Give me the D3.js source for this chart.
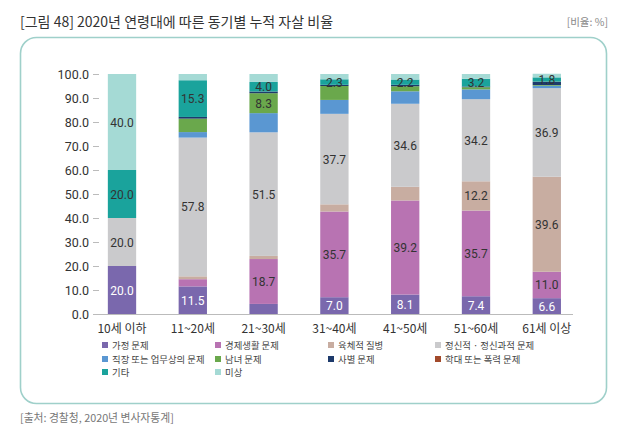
<!DOCTYPE html>
<html><head><meta charset="utf-8">
<script src="https://cdn.jsdelivr.net/npm/d3@7"></script>
<style>
html,body{margin:0;padding:0;background:#fff;}
svg{display:block;}
</style></head>
<body>
<script>
// ---- data ----
const categories = ["10세 이하","11~20세","21~30세","31~40세","41~50세","51~60세","61세 이상"];
const seriesNames = ["가정 문제","경제생활 문제","육체적 질병","정신적 · 정신과적 문제","직장 또는 업무상의 문제","남녀 문제","사별 문제","학대 또는 폭력 문제","기타","미상"];
const family   = [20.0, 11.5, 4.2, 7.0, 8.1, 7.4, 6.6];
const economic = [0, 3.0, 18.7, 35.7, 39.2, 35.7, 11.0];
const physical = [0, 1.2, 1.3, 3.0, 5.7, 12.2, 39.6];
const mental   = [20.0, 57.8, 51.5, 37.7, 34.6, 34.2, 36.9];
const work     = [0, 2.3, 8.0, 5.8, 5.2, 4.1, 1.0];
const romance  = [0, 5.6, 8.3, 5.8, 2.1, 0.9, 0.3];
const bereave  = [0, 0.7, 0.7, 0.5, 0.6, 0.3, 1.3];
const abuse    = [0, 0, 0, 0, 0, 0, 0.1];
const other    = [20.0, 15.3, 4.0, 2.3, 2.2, 3.2, 1.8];
const unknown  = [40.0, 2.6, 3.3, 2.2, 2.3, 2.0, 1.5];
const yTicks = [0,10,20,30,40,50,60,70,80,90,100];
// which segment values are printed on the chart: [seriesIndex, categoryIndex]
const labeledCells = [
  [0,0],[3,0],[8,0],[9,0],
  [0,1],[3,1],[8,1],
  [1,2],[3,2],[5,2],[8,2],
  [0,3],[1,3],[3,3],[8,3],
  [0,4],[1,4],[3,4],[8,4],
  [0,5],[1,5],[2,5],[3,5],[8,5],
  [0,6],[1,6],[2,6],[3,6],[8,6]
];
const colors = ["#7a68ad","#b873b2","#c8ada1","#cacacc","#5a97d2","#6aa84c","#1d3a6b","#a24a2b","#1aa39c","#a5dad5"];
const labelColors = ["#ffffff","#333","#333","#333","#333","#333","#333","#333","#333","#333"];

const seriesValues = [family, economic, physical, mental, work, romance, bereave, abuse, other, unknown];

// ---- chart ----
const W = 630, H = 447;
const svg = d3.select("body").append("svg").attr("width", W).attr("height", H);
const KR = "'Noto Sans CJK KR','Noto Sans',sans-serif";
const NUM = "Roboto,'DejaVu Sans',sans-serif";

svg.append("text").attr("x", 20).attr("y", 27)
  .attr("font-family", KR).attr("font-size", 14).attr("fill", "#333")
  .text("[그림 48] 2020년 연령대에 따른 동기별 누적 자살 비율");
svg.append("text").attr("x", 608).attr("y", 26).attr("text-anchor", "end")
  .attr("font-family", KR).attr("font-size", 10.5).attr("fill", "#888")
  .text("[비율: %]");

svg.append("rect").attr("x", 20.5).attr("y", 37.5).attr("width", 586).attr("height", 366)
  .attr("rx", 16).attr("ry", 16).attr("fill", "none").attr("stroke", "#9fd0ca").attr("stroke-width", 1.6);

svg.append("text").attr("x", 20).attr("y", 422)
  .attr("font-family", KR).attr("font-size", 10.8).attr("fill", "#777")
  .text("[출처: 경찰청, 2020년 변사자통계]");

const x = d3.scaleBand().domain(categories).range([86.6, 582.2]).paddingInner(0.6).paddingOuter(0.3);
const y = d3.scaleLinear().domain([0, 100]).range([314, 74]);

// y axis labels and tick dashes
const yAxis = d3.axisLeft(y).tickValues(yTicks).tickFormat(d3.format(".1f")).tickSize(6).tickPadding(4);
const gy = svg.append("g").attr("transform", "translate(99,0)").call(yAxis);
gy.select(".domain").remove();
gy.selectAll(".tick line").attr("stroke", "#bbb");
gy.selectAll(".tick text").attr("font-family", NUM).attr("font-size", 12.5).attr("fill", "#333");

// baseline
svg.append("line").attr("x1", 99).attr("x2", 573).attr("y1", y(0) + 0.5).attr("y2", y(0) + 0.5)
  .attr("stroke", "#bbb").attr("stroke-width", 1.2);

// stacked data
const table = categories.map((c, i) => {
  const o = {cat: c};
  seriesNames.forEach((s, k) => o[s] = seriesValues[k][i]);
  return o;
});
const stacked = d3.stack().keys(seriesNames)(table);

const labelSet = new Set(labeledCells.map(d => d[0] + "_" + d[1]));

const layers = svg.append("g").selectAll("g").data(stacked).join("g")
  .attr("fill", (d, k) => colors[k]);
layers.selectAll("rect").data(d => d).join("rect")
  .attr("x", d => x(d.data.cat))
  .attr("width", x.bandwidth())
  .attr("y", d => y(d[1]))
  .attr("height", d => Math.max(0, y(d[0]) - y(d[1])));

// value labels
const labG = svg.append("g");
stacked.forEach((layer, k) => {
  layer.forEach((d, i) => {
    if (!labelSet.has(k + "_" + i)) return;
    const v = seriesValues[k][i];
    labG.append("text")
      .attr("x", x(d.data.cat) + x.bandwidth() / 2)
      .attr("y", (y(d[0]) + y(d[1])) / 2 + 4.5)
      .attr("text-anchor", "middle")
      .attr("font-family", NUM).attr("font-size", 12)
      .attr("fill", labelColors[k])
      .text(d3.format(".1f")(v));
  });
});

// x labels
categories.forEach(c => {
  svg.append("text").attr("x", x(c) + x.bandwidth() / 2).attr("y", 333)
    .attr("text-anchor", "middle").attr("font-family", KR).attr("font-size", 12).attr("fill", "#333")
    .text(c);
});

// legend
const legCols = [105, 218, 331, 438];
const legRows = [345, 359, 372];
seriesNames.forEach((s, k) => {
  const cx = legCols[k % 4], cy = legRows[Math.floor(k / 4)];
  svg.append("rect").attr("x", cx - 3).attr("y", cy - 3).attr("width", 6).attr("height", 6).attr("fill", colors[k]);
  svg.append("text").attr("x", cx + 7).attr("y", cy + 3.5)
    .attr("font-family", KR).attr("font-size", 9.4).attr("fill", "#444").text(s);
});
</script>
</body></html>
